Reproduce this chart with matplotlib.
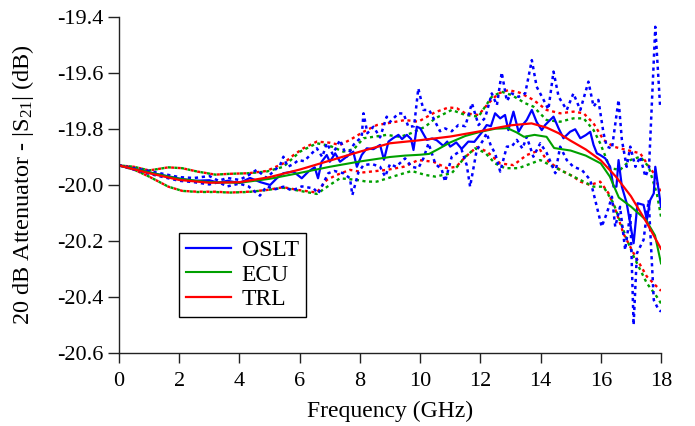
import numpy as np
import matplotlib
matplotlib.use("Agg")
import matplotlib.pyplot as plt

plt.rcParams.update({
    "font.family": ["Liberation Serif", "DejaVu Serif"],
    "mathtext.fontset": "custom",
    "mathtext.rm": "Liberation Serif",
    "mathtext.it": "Liberation Serif:italic",
    "axes.unicode_minus": False,
})

# ---------------- data ----------------
# TRL solid
trl_f = [0, 1, 2, 3, 4, 5, 6, 7, 8, 9, 10, 11, 12, 12.5, 13, 13.7, 14.2, 14.6,
         15, 15.5, 16, 16.5, 17, 17.5, 18]
trl_v = [-19.930, -19.958, -19.982, -19.992, -19.990, -19.972, -19.945, -19.913,
         -19.881, -19.851, -19.840, -19.827, -19.808, -19.797, -19.787, -19.780,
         -19.795, -19.815, -19.842, -19.873, -19.912, -19.970, -20.040, -20.130,
         -20.228]

# ECU solid
ecu_f = [0, 1, 2, 3, 4, 5, 6, 7, 8, 9, 9.5, 10, 10.3, 10.6, 11, 11.5, 12, 12.5,
         12.9, 13.2, 13.45, 13.8, 14.2, 14.45, 15, 15.5, 16, 16.3, 16.6, 17,
         17.5, 17.8, 18]
ecu_v = [-19.930, -19.955, -19.978, -19.990, -19.992, -19.978, -19.957, -19.935,
         -19.916, -19.900, -19.895, -19.892, -19.889, -19.872, -19.848, -19.825,
         -19.810, -19.799, -19.797, -19.812, -19.828, -19.821, -19.828, -19.868,
         -19.877, -19.895, -19.923, -19.970, -20.045, -20.077, -20.125, -20.180,
         -20.280]

# OSLT solid
oslt_f = [0, 1, 2, 2.5, 3, 3.3, 3.6, 4.0, 4.35, 4.7, 5.02, 5.25, 5.46, 5.79,
          6.07, 6.29, 6.5, 6.61, 6.73, 6.9, 7.0, 7.18, 7.34, 7.56, 7.78, 7.9,
          8.06, 8.23, 8.45, 8.67, 8.8, 8.95, 9.1, 9.28, 9.4, 9.56, 9.7, 9.78,
          9.89, 10.0, 10.22, 10.4, 10.55, 10.77, 10.9, 11.0, 11.2, 11.38, 11.6,
          11.8, 12.05, 12.21, 12.35, 12.49, 12.66, 12.82, 12.93, 13.1, 13.27,
          13.4, 13.54, 13.71, 13.87, 14.04, 14.15, 14.26, 14.43, 14.6, 14.76,
          14.98, 15.15, 15.32, 15.5, 15.65, 15.76, 15.87, 15.98, 16.15, 16.31,
          16.42, 16.52, 16.59, 16.7, 16.86, 17.09, 17.22, 17.42, 17.53, 17.64,
          17.76, 17.81, 18.0]
oslt_v = [-19.930, -19.955, -19.977, -19.985, -19.983, -19.992, -19.985, -19.993,
          -19.975, -19.990, -20.000, -19.975, -19.958, -19.952, -19.976, -19.952,
          -19.937, -19.976, -19.917, -19.893, -19.917, -19.887, -19.917, -19.899,
          -19.881, -19.935, -19.893, -19.869, -19.872, -19.857, -19.910, -19.845,
          -19.833, -19.821, -19.836, -19.821, -19.836, -19.875, -19.792, -19.797,
          -19.839, -19.834, -19.840, -19.860, -19.845, -19.863, -19.848, -19.871,
          -19.845, -19.846, -19.812, -19.786, -19.790, -19.744, -19.762, -19.750,
          -19.804, -19.738, -19.810, -19.786, -19.768, -19.732, -19.775, -19.804,
          -19.786, -19.774, -19.756, -19.798, -19.833, -19.810, -19.801, -19.833,
          -19.822, -19.810, -19.857, -19.887, -19.893, -19.905, -19.935, -20.006,
          -20.006, -19.911, -20.006, -20.065, -20.208, -20.065, -20.071, -20.125,
          -20.054, -20.030, -19.935, -20.078]

# OSLT bounds (dotted)
oslt_up_f = [0, 1, 2, 2.5, 3.0, 3.3, 3.6, 4.0, 4.3, 4.57, 4.9, 5.35, 5.46, 5.6,
             5.8, 5.96, 6.15, 6.35, 6.57, 6.75, 6.9, 7.1, 7.34, 7.56, 7.8, 8.06,
             8.12, 8.25, 8.45, 8.67, 8.89, 9.0, 9.28, 9.45, 9.61, 9.8, 9.94,
             10.11, 10.3, 10.5, 10.66, 10.83, 11.05, 11.27, 11.5, 11.72, 11.94,
             12.16, 12.38, 12.55, 12.71, 12.88, 13.04, 13.27, 13.49, 13.71,
             13.87, 14.1, 14.26, 14.43, 14.6, 14.87, 15.09, 15.32, 15.59, 15.76,
             15.92, 16.09, 16.2, 16.37, 16.59, 16.7, 16.86, 16.98, 17.15, 17.31,
             17.48, 17.6, 17.81, 17.97]
oslt_up_v = [-19.930, -19.950, -19.972, -19.975, -19.968, -19.985, -19.975,
             -19.982, -19.965, -19.946, -19.975, -19.929, -19.899, -19.935,
             -19.925, -19.911, -19.915, -19.893, -19.869, -19.900, -19.851,
             -19.890, -19.839, -19.899, -19.855, -19.828, -19.744, -19.815,
             -19.792, -19.830, -19.756, -19.775, -19.744, -19.745, -19.792,
             -19.790, -19.655, -19.732, -19.732, -19.774, -19.808, -19.798,
             -19.808, -19.786, -19.790, -19.708, -19.786, -19.760, -19.673,
             -19.715, -19.598, -19.700, -19.673, -19.685, -19.673, -19.554,
             -19.649, -19.696, -19.730, -19.595, -19.685, -19.732, -19.673,
             -19.732, -19.631, -19.720, -19.696, -19.815, -19.863, -19.870,
             -19.696, -19.839, -19.935, -19.863, -19.935, -19.899, -19.970,
             -19.940, -19.435, -19.720]

oslt_lo_f = [0, 1, 2, 2.5, 3.0, 3.3, 3.6, 4.0, 4.3, 4.68, 4.9, 5.2, 5.46, 5.75,
             6.07, 6.46, 6.62, 6.95, 7.15, 7.45, 7.67, 7.75, 7.95, 8.12, 8.4,
             8.67, 8.84, 9.0, 9.2, 9.5, 9.72, 9.94, 10.11, 10.28, 10.5, 10.72,
             10.83, 11.05, 11.38, 11.55, 11.66, 11.88, 12.1, 12.21, 12.35, 12.49,
             12.66, 12.88, 13.04, 13.21, 13.4, 13.54, 13.76, 13.99, 14.2, 14.49,
             14.65, 14.87, 15.09, 15.37, 15.65, 15.87, 16.03, 16.2, 16.37, 16.48,
             16.64, 16.81, 16.98, 17.09, 17.2, 17.42, 17.59, 17.76, 17.92, 18.0]
oslt_lo_v = [-19.930, -19.960, -19.985, -19.990, -19.998, -19.990, -20.005,
             -19.995, -20.005, -20.038, -20.005, -20.015, -20.006, -20.020,
             -20.005, -20.012, -20.030, -19.958, -19.950, -19.958, -19.976,
             -20.036, -19.955, -19.929, -19.925, -19.935, -19.970, -19.925,
             -19.935, -19.905, -19.935, -19.940, -19.905, -19.851, -19.923,
             -19.946, -19.988, -19.899, -19.875, -19.930, -20.006, -19.875,
             -19.839, -19.815, -19.860, -19.887, -19.952, -19.863, -19.863,
             -19.839, -19.870, -19.828, -19.899, -19.851, -19.885, -19.958,
             -19.863, -19.911, -19.935, -19.946, -19.982, -20.078, -20.149,
             -20.101, -20.042, -20.149, -20.078, -20.232, -20.101, -20.500,
             -20.244, -20.196, -20.054, -20.411, -20.446, -20.452]

# TRL bounds (dotted)
trl_up_f = [0, 0.5, 1.0, 1.64, 2.1, 2.6, 3.2, 3.7, 4.3, 4.9, 5.46, 5.8, 6.12,
            6.57, 7.0, 7.34, 7.67, 8.12, 8.56, 8.9, 9.5, 9.94, 10.5, 10.95,
            11.22, 11.5, 11.94, 12.27, 12.6, 12.93, 13.3, 13.76, 14.2, 14.65,
            15.09, 15.43, 15.76, 16.09, 16.42, 16.86, 17.31, 17.53, 17.76, 18.0]
trl_up_v = [-19.930, -19.935, -19.948, -19.937, -19.940, -19.952, -19.963,
            -19.960, -19.958, -19.950, -19.923, -19.893, -19.869, -19.845,
            -19.849, -19.857, -19.839, -19.810, -19.786, -19.780, -19.768,
            -19.774, -19.740, -19.723, -19.726, -19.744, -19.750, -19.708,
            -19.673, -19.661, -19.670, -19.696, -19.732, -19.744, -19.738,
            -19.744, -19.780, -19.839, -19.863, -19.875, -19.887, -19.923,
            -19.958, -20.030]

trl_lo_f = [0, 0.5, 1.0, 1.64, 2.1, 2.6, 3.2, 3.7, 4.3, 4.9, 5.46, 5.96, 6.57,
            6.9, 7.23, 7.67, 8.12, 8.9, 9.45, 9.94, 10.44, 10.89, 11.2, 11.5,
            11.88, 12.21, 12.66, 13.1, 13.54, 13.99, 14.2, 14.65, 15.09, 15.32,
            15.65, 15.98, 16.26, 16.53, 16.75, 17.09, 17.53, 17.86, 18.0]
trl_lo_v = [-19.930, -19.945, -19.970, -20.006, -20.021, -20.024, -20.024,
            -20.027, -20.024, -20.018, -20.008, -20.018, -20.027, -19.982,
            -19.964, -19.946, -19.955, -19.946, -19.935, -19.911, -19.917,
            -19.940, -19.935, -19.900, -19.865, -19.880, -19.923, -19.929,
            -19.893, -19.875, -19.911, -19.946, -19.970, -19.988, -20.000,
            -19.988, -20.030, -20.101, -20.173, -20.244, -20.327, -20.363,
            -20.378]

# ECU bounds (dotted)
ecu_up_f = [0, 0.5, 1.0, 1.64, 2.1, 2.6, 3.2, 3.7, 4.3, 4.9, 5.46, 6.01, 6.57,
            7.0, 7.45, 7.8, 8.12, 8.45, 8.89, 9.34, 9.7, 10.17, 10.5, 11.05,
            11.5, 11.94, 12.16, 12.38, 12.71, 13.04, 13.49, 13.76, 14.2, 14.65,
            15.09, 15.43, 15.76, 15.98, 16.31, 16.64, 16.98, 17.31, 17.59,
            17.86, 18.0]
ecu_up_v = [-19.930, -19.935, -19.948, -19.937, -19.940, -19.952, -19.963,
            -19.960, -19.958, -19.952, -19.935, -19.881, -19.851, -19.860,
            -19.881, -19.872, -19.833, -19.828, -19.821, -19.828, -19.815,
            -19.792, -19.762, -19.732, -19.750, -19.756, -19.720, -19.685,
            -19.667, -19.679, -19.708, -19.720, -19.768, -19.774, -19.762,
            -19.762, -19.804, -19.851, -19.940, -19.946, -19.911, -19.899,
            -19.935, -20.030, -20.113]

ecu_lo_f = [0, 0.5, 1.0, 1.64, 2.1, 2.6, 3.2, 3.7, 4.3, 4.9, 5.46, 5.96, 6.57,
            7.0, 7.34, 7.9, 8.23, 8.56, 8.8, 9.34, 9.72, 10.17, 10.5, 11.05,
            11.5, 11.83, 12.16, 12.49, 12.82, 13.27, 13.54, 13.99, 14.43, 14.87,
            15.32, 15.76, 16.09, 16.42, 16.75, 17.09, 17.53, 17.86, 18.0]
ecu_lo_v = [-19.930, -19.945, -19.970, -20.006, -20.021, -20.025, -20.025,
            -20.027, -20.025, -20.018, -20.010, -20.020, -20.032, -20.000,
            -19.976, -19.982, -19.988, -19.988, -19.980, -19.962, -19.950,
            -19.964, -19.970, -19.958, -19.899, -19.869, -19.885, -19.923,
            -19.940, -19.940, -19.929, -19.911, -19.935, -19.958, -19.982,
            -20.006, -20.006, -20.065, -20.161, -20.255, -20.351, -20.399,
            -20.423]

yticks = [-20.6, -20.4, -20.2, -20.0, -19.8, -19.6, -19.4]
xticks = list(range(0, 19, 2))

c_blue = "#0000ff"
c_green = "#00a000"
c_red = "#ff0000"

fig = plt.figure(figsize=(6.95, 4.26), dpi=100)
ax = fig.add_axes([0.1712, 0.1714, 0.7799, 0.7887])

dot = (0, (1.3, 1.5))
ax.plot(trl_up_f, trl_up_v, color=c_red, lw=1.7, ls=dot)
ax.plot(trl_lo_f, trl_lo_v, color=c_red, lw=1.7, ls=dot)
ax.plot(ecu_up_f, ecu_up_v, color=c_green, lw=1.7, ls=(1.4, (1.3, 1.5)))
ax.plot(ecu_lo_f, ecu_lo_v, color=c_green, lw=1.7, ls=(1.4, (1.3, 1.5)))
ax.plot(oslt_up_f, oslt_up_v, color=c_blue, lw=1.8, ls=dot)
ax.plot(oslt_lo_f, oslt_lo_v, color=c_blue, lw=1.8, ls=dot)

ax.plot(oslt_f, oslt_v, color=c_blue, lw=1.6, label="OSLT")
ax.plot(ecu_f, ecu_v, color=c_green, lw=1.5, label="ECU")
ax.plot(trl_f, trl_v, color=c_red, lw=1.6, label="TRL")

ax.set_xlim(0, 18)
ax.set_ylim(-20.6, -19.4)
ax.set_xticks(xticks)
ax.set_yticks(yticks)
ax.set_yticklabels([f"{t:.1f}" for t in yticks])
ax.tick_params(axis="both", direction="out", length=8, width=1,
               labelsize=16, colors="#222222", labelcolor="black")
ax.tick_params(axis="x", length=7, pad=7)
ax.tick_params(axis="y", pad=3)

for side in ["top", "right"]:
    ax.spines[side].set_visible(False)
for side in ["left", "bottom"]:
    ax.spines[side].set_linewidth(1.0)
    ax.spines[side].set_color("#222222")

ax.set_xlabel("Frequency (GHz)", fontsize=17, labelpad=7)
ax.set_ylabel(r"20 dB Attenuator - |S$_{21}$| (dB)", fontsize=17.5,
              labelpad=15)

leg = ax.legend(loc="lower left", bbox_to_anchor=(0.111, 0.107),
                borderaxespad=0, fontsize=17, handlelength=1.9,
                labelspacing=0.12, handletextpad=0.45, borderpad=0.3,
                fancybox=False, framealpha=1)
leg.get_frame().set_edgecolor("black")
leg.get_frame().set_linewidth(1.0)

fig.savefig("out.png", dpi=100)
